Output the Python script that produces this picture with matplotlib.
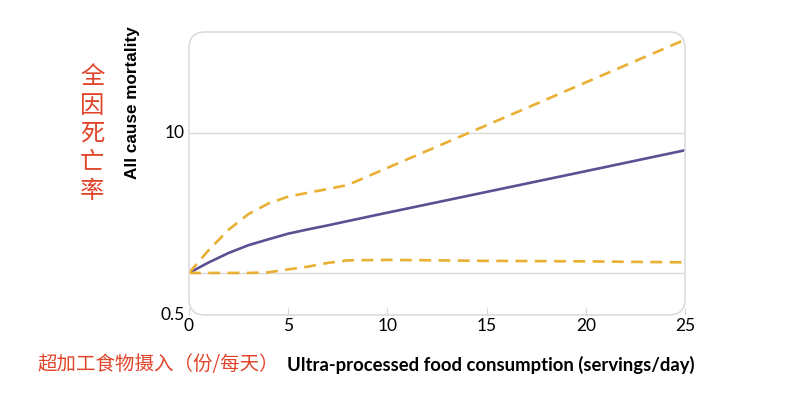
import matplotlib
matplotlib.use("Agg")
import matplotlib.pyplot as plt
from matplotlib.patches import FancyBboxPatch

# servings/day and mortality
x_vals = [0, 1, 2, 3, 4, 5, 6, 7, 8, 10, 15, 20, 25]
mid = [1.0, 1.19, 1.39, 1.58, 1.74, 1.91, 2.05, 2.19, 2.35, 2.70, 3.80, 5.35, 7.55]
upper = [1.0, 1.46, 2.04, 2.64, 3.14, 3.52, 3.75, 3.99, 4.26, 5.65, 11.4, 23.1, 46.7]
lower = [1.0, 1.0, 1.0, 1.0, 1.01, 1.06, 1.11, 1.18, 1.23, 1.24, 1.22, 1.21, 1.19]

x_ticks = [0, 5, 10, 15, 20, 25]
y_ticks = [0.5, 10]
y_ticklabels = ["0.5", "10"]
grid_y = [1, 10]

purple = "#5c4f94"
gold = "#e9b033"
red = "#e0452b"

fig = plt.figure(figsize=(8.08, 3.94), dpi=100)
ax = fig.add_axes([0.2339, 0.2005, 0.6139, 0.7183])

for g in grid_y:
    ax.axhline(g, color="#dadada", lw=1, zorder=1)

ax.plot(x_vals, mid, color=purple, lw=1.9, zorder=3)
ax.plot(x_vals, upper, color=gold, lw=1.9, dashes=(4.5, 2.8), zorder=3)
ax.plot(x_vals, lower, color=gold, lw=1.9, dashes=(4.5, 2.8), zorder=3)

ax.set_yscale("log")
ax.set_xlim(0, 25)
ax.set_ylim(0.5, 53)
ax.set_xticks(x_ticks)
ax.set_xticklabels([str(t) for t in x_ticks], fontfamily="Lato", fontsize=12.5)
ax.set_yticks(y_ticks)
ax.set_yticklabels(y_ticklabels, fontfamily="Lato", fontsize=12.5)
ax.minorticks_off()
ax.tick_params(axis="x", direction="in", length=5, color="#d5d5d5", pad=2)
ax.tick_params(axis="y", length=0, pad=3)
for lab in ax.get_yticklabels():
    lab.set_verticalalignment("center")
for s in ax.spines.values():
    s.set_visible(False)

# rounded frame around the plot area
pos = ax.get_position()
W, H = fig.get_size_inches()
frame = FancyBboxPatch((pos.x0, pos.y0), pos.width, pos.height,
                       boxstyle="round,pad=0,rounding_size=0.02",
                       mutation_aspect=W / H, transform=fig.transFigure,
                       fill=False, edgecolor="#dcdcdc", lw=1.2, zorder=0)
fig.patches.append(frame)

fig.text(0.1645, 0.739, "All cause mortality", rotation=90, ha="center", va="center",
         fontfamily="Liberation Sans", fontweight="bold", fontsize=12.3)
fig.text(0.114, 0.66, "\n".join("全因死亡率"), ha="center", va="center",
         fontfamily=["Noto Sans CJK SC", "DejaVu Sans"], fontsize=17.5,
         color=red, linespacing=1.12)
fig.text(0.047, 0.074, "超加工食物摄入（份/每天）", ha="left", va="center",
         fontfamily=["Noto Sans CJK SC", "DejaVu Sans"], fontsize=14, color=red)
fig.text(0.355, 0.074, "Ultra-processed food consumption (servings/day)", ha="left",
         va="center", fontfamily="Lato", fontweight="bold", fontsize=13.3)

fig.savefig("out.png", dpi=100)
